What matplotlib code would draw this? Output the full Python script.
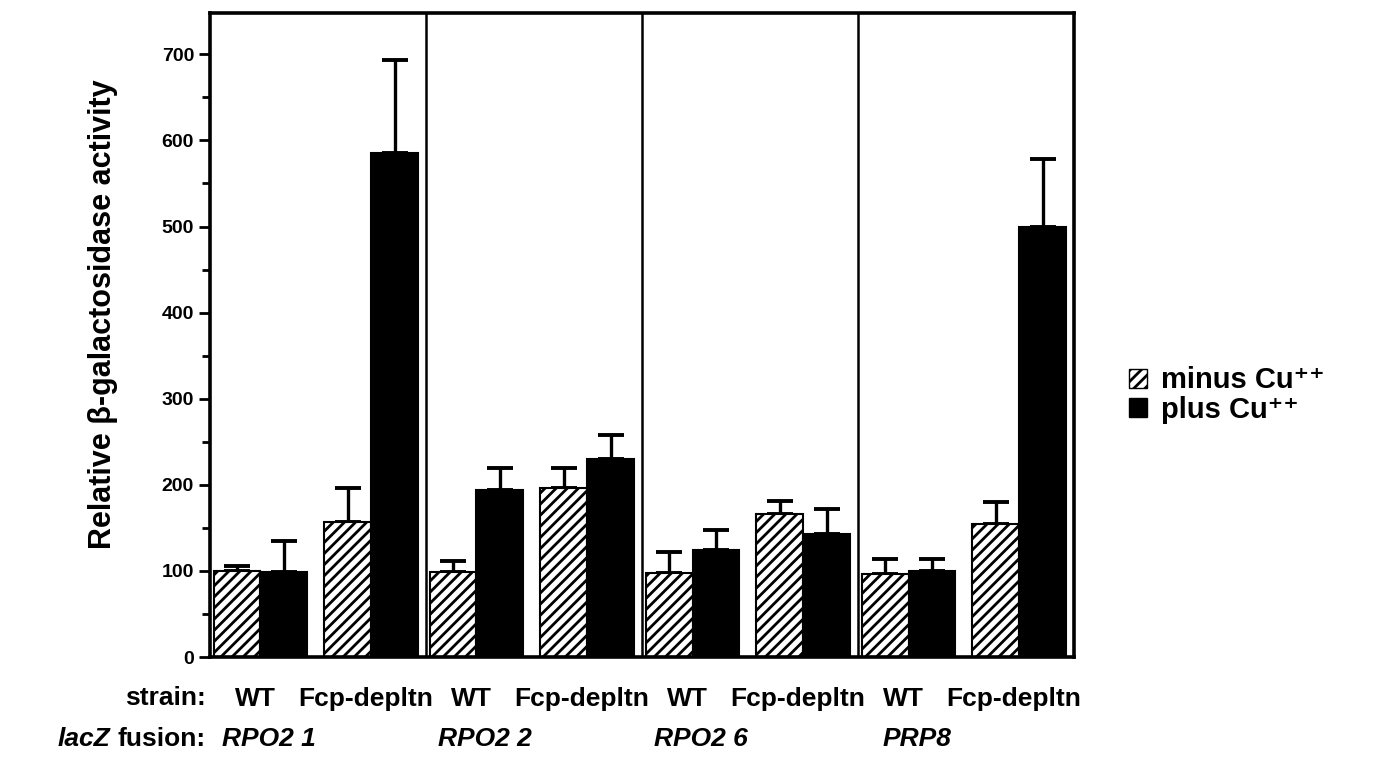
import numpy as np
import matplotlib
matplotlib.use('Agg')
import matplotlib.pyplot as plt
from matplotlib.patches import Patch

plt.rcParams['font.family'] = ['Liberation Sans', 'DejaVu Sans']
plt.rcParams['font.weight'] = 'bold'
plt.rcParams['hatch.linewidth'] = 2.0

# data
fusions = ['RPO2 1', 'RPO2 2', 'RPO2 6', 'PRP8']
strains = ['WT', 'Fcp-depltn']
minus_cu = [100, 157, 99, 196, 98, 166, 96, 155]
minus_err = [6, 39, 13, 23, 24, 15, 18, 25]
plus_cu = [99, 585, 194, 230, 124, 143, 100, 499]
plus_err = [36, 108, 26, 28, 23, 29, 14, 79]
yticks = [0, 100, 200, 300, 400, 500, 600, 700]

fig = plt.figure(figsize=(13.78, 7.6), dpi=100)
ax = fig.add_axes([0.1524, 0.1355, 0.627, 0.8474])

# bar layout: 4 panels, 4 units wide each
w = 0.87
pair_off = [0.5, 2.55]
x_minus = np.array([p * 4 + o for p in range(4) for o in pair_off])
x_plus = x_minus + w

ax.bar(x_minus, minus_cu, width=w, color='white', edgecolor='black',
       hatch='///', linewidth=1.5, align='center', zorder=2)
ax.bar(x_plus, plus_cu, width=w, color='black', edgecolor='black',
       linewidth=1.5, align='center', zorder=2)
ax.errorbar(x_minus, minus_cu, yerr=[np.zeros(8), minus_err], fmt='none',
            ecolor='black', elinewidth=2.4, capsize=9.5, capthick=2.8, zorder=1)
ax.errorbar(x_plus, plus_cu, yerr=[np.zeros(8), plus_err], fmt='none',
            ecolor='black', elinewidth=2.4, capsize=9.5, capthick=2.8, zorder=1)

# panel separators
for s in [4, 8, 12]:
    ax.axvline(s, color='black', lw=1.8, zorder=3)

ax.set_xlim(0, 16)
ax.set_ylim(0, 748)
ax.set_xticks([])
ax.set_yticks(yticks)
ax.set_yticks(np.arange(50, 750, 100), minor=True)
ax.tick_params(axis='y', which='major', length=8, width=2, labelsize=14, direction='out')
ax.tick_params(axis='y', which='minor', length=6, width=2, direction='out')
for sp in ax.spines.values():
    sp.set_linewidth(2.6)

ax.set_ylabel(u'Relative \u03b2-galactosidase activity', fontsize=22, fontweight='bold')
ax.yaxis.set_label_coords(-0.106, 0.532)

# strain and fusion labels below the axis
tr = ax.get_xaxis_transform()
for i in range(8):
    cx = (x_minus[i] + x_plus[i]) / 2 - 0.1
    ax.text(cx, -0.065, strains[i % 2], transform=tr, ha='center', va='center',
            fontsize=19, fontweight='bold')
for p in range(4):
    cx = (x_minus[2 * p] + x_plus[2 * p]) / 2 + 0.15
    ax.text(cx, -0.128, fusions[p], transform=tr, ha='center', va='center',
            fontsize=19, fontweight='bold', style='italic')
fig.text(0.149, 0.082, 'strain:', ha='right', va='center', fontsize=19, fontweight='bold')
fus = fig.text(0.149, 0.028, 'fusion:', ha='right', va='center', fontsize=19,
               fontweight='bold')
# put the italic "lacZ" just left of "fusion:"
fig.canvas.draw()
bb = fus.get_window_extent()
fig.text((bb.x0 - 7) / fig.bbox.width, 0.028, 'lacZ', ha='right', va='center',
         fontsize=19, fontweight='bold', style='italic')

sup = u'\u207a\u207a'
handles = [Patch(facecolor='white', edgecolor='black', hatch='///', label='minus Cu' + sup),
           Patch(facecolor='black', edgecolor='black', label='plus Cu' + sup)]
fig.legend(handles=handles, loc='center left', bbox_to_anchor=(0.8, 0.48),
           frameon=False, fontsize=21, handlelength=0.62, handleheight=0.62,
           handletextpad=0.5, labelspacing=0.05)

fig.savefig('out.png', dpi=100)
